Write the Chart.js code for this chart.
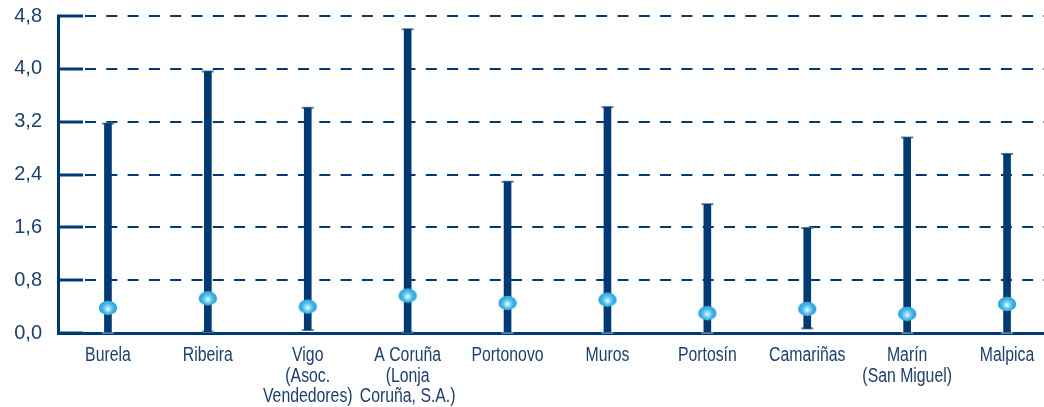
<!DOCTYPE html>
<html>
<head>
<meta charset="utf-8">
<script src="https://cdn.jsdelivr.net/npm/chart.js@4"></script>
<style>
html,body{margin:0;padding:0;background:#fff;overflow:hidden;}
#wrap{width:1068px;height:407px;}
</style>
</head>
<body>
<div id="wrap"><canvas id="c" width="1068" height="407"></canvas></div>
<script>
const categories = [
  ['Burela'], ['Ribeira'], ['Vigo','(Asoc.','Vendedores)'], ['A Coruña','(Lonja','Coruña, S.A.)'],
  ['Portonovo'], ['Muros'], ['Portosín'], ['Camariñas'], ['Marín','(San Miguel)'], ['Malpica']
];
const maxValues = [3.17, 3.96, 3.41, 4.60, 2.29, 3.42, 1.95, 1.59, 2.96, 2.71];
const minValues = [0.00, 0.02, 0.045, 0.01, 0.00, 0.00, 0.00, 0.07, 0.00, 0.00];
const markerValues = [0.38, 0.525, 0.40, 0.566, 0.455, 0.505, 0.30, 0.365, 0.29, 0.44];
const yTickValues = [0, 0.8, 1.6, 2.4, 3.2, 4.0, 4.8];

const NAVY = '#003a75';
const TEXT = '#1a3f73';

// glossy ball marker
function makeBall(){
  const w = 20, h = 16;
  const c = document.createElement('canvas');
  c.width = w; c.height = h;
  const g = c.getContext('2d');
  g.beginPath();
  g.ellipse(w/2, h/2, 9.2, 7.2, 0, 0, Math.PI*2);
  const grad = g.createRadialGradient(w/2, h*0.58, 0.3, w/2, h/2, 9.5);
  grad.addColorStop(0, '#f0fbff');
  grad.addColorStop(0.2, '#a0e0f8');
  grad.addColorStop(0.5, '#45bbec');
  grad.addColorStop(0.9, '#279edf');
  grad.addColorStop(1, '#2193d6');
  g.fillStyle = grad;
  g.fill();
  return c;
}
const ball = makeBall();

const tickMarks = {
  id: 'tickMarks',
  afterDraw(chart){
    const y = chart.scales.y, ctx = chart.ctx, left = chart.chartArea.left;
    ctx.save();
    ctx.strokeStyle = NAVY;
    ctx.lineWidth = 3;
    y.ticks.forEach(t => {
      const py = Math.round(y.getPixelForValue(t.value));
      ctx.beginPath();
      ctx.moveTo(left - 1, py);
      ctx.lineTo(left + 25, py);
      ctx.stroke();
    });
    ctx.restore();
  }
};

// condensed category labels (narrow font look)
const narrowLabels = {
  id: 'narrowLabels',
  afterDraw(chart){
    const x = chart.scales.x, ctx = chart.ctx;
    const base = chart.chartArea.bottom + 28;
    ctx.save();
    ctx.fillStyle = TEXT;
    ctx.font = "20px 'Liberation Sans', Arial, sans-serif";
    ctx.textAlign = 'center';
    ctx.textBaseline = 'alphabetic';
    chart.data.labels.forEach((lines, i) => {
      const px = x.getPixelForTick(i);
      lines.forEach((line, j) => {
        ctx.save();
        ctx.translate(px, base + j * 20.6);
        ctx.scale(0.79, 1);
        ctx.fillText(line, 0, 0);
        ctx.restore();
      });
    });
    ctx.restore();
  }
};

new Chart(document.getElementById('c'), {
  type: 'bar',
  data: {
    labels: categories,
    datasets: [
      {
        type: 'line', data: maxValues, showLine: false, pointStyle: 'line',
        pointRadius: 6, pointBorderWidth: 2, pointBorderColor: '#5a80ab', clip: false, order: 2
      },
      {
        type: 'line', data: minValues, showLine: false, pointStyle: 'line',
        pointRadius: 6, pointBorderWidth: 2, pointBorderColor: '#5a80ab', clip: false, order: 2
      },
      {
        data: categories.map((_, i) => [minValues[i], maxValues[i]]),
        backgroundColor: NAVY, barThickness: 7, borderSkipped: false, order: 1
      },
      {
        type: 'line', data: markerValues, showLine: false, pointStyle: ball,
        pointRadius: 10, clip: false, order: 0
      }
    ]
  },
  options: {
    responsive: false,
    devicePixelRatio: 1,
    animation: false,
    layout: { padding: { top: 16, right: 0, left: 0, bottom: 0 } },
    plugins: { legend: { display: false }, tooltip: { enabled: false } },
    scales: {
      x: {
        grid: { display: false, drawTicks: false },
        border: { display: true, color: NAVY, width: 3 },
        ticks: { display: false },
        afterFit(s){ s.height = 74; s.paddingLeft = 0; s.paddingRight = 0; }
      },
      y: {
        min: 0, max: 4.8,
        afterBuildTicks(s){ s.ticks = yTickValues.map(v => ({ value: v })); },
        grid: { color: NAVY, lineWidth: 2, drawTicks: false },
        border: { display: true, color: NAVY, width: 3, dash: [11, 10.3], dashOffset: 17.6 },
        ticks: {
          color: TEXT, padding: 16,
          font: { family: "'Liberation Sans', Arial, sans-serif", size: 20 },
          callback: v => v.toFixed(1).replace('.', ',')
        },
        afterFit(s){ s.width = 58; s.paddingTop = 0; s.paddingBottom = 0; }
      }
    }
  },
  plugins: [tickMarks, narrowLabels]
});
</script>
</body>
</html>
